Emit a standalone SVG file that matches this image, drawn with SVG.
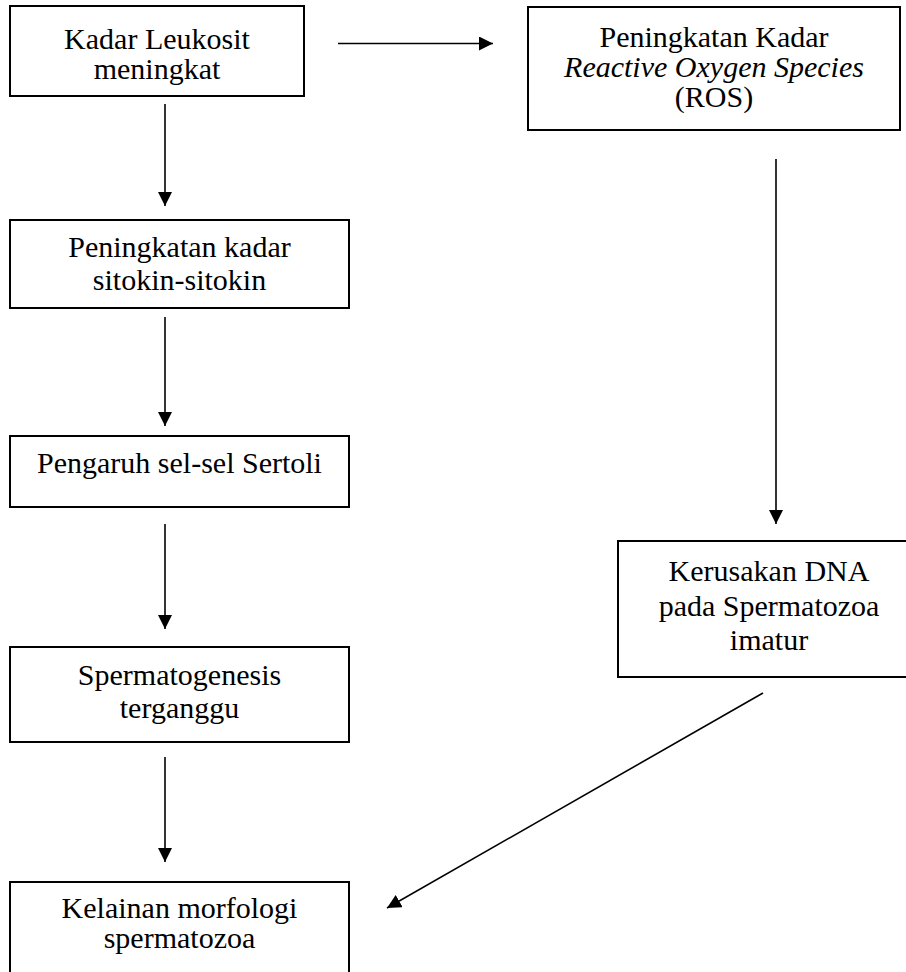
<svg xmlns="http://www.w3.org/2000/svg" width="906" height="972" viewBox="0 0 906 972">
<style>
.box{fill:#fff;stroke:#000;stroke-width:2}
.t{font-family:"Liberation Serif","Times New Roman",serif;font-size:30px;fill:#000;text-anchor:middle}
.i{font-style:italic}
.c{stroke:#000;stroke-width:1.6;fill:none;marker-end:url(#ah)}
</style>
<defs>
<marker id="ah" viewBox="0 0 14 14" refX="14" refY="7" markerWidth="14" markerHeight="14" markerUnits="userSpaceOnUse" orient="auto">
<path d="M0,0 L14,7 L0,14 Z" fill="#000"/>
</marker>
</defs>
<rect width="906" height="972" fill="#fff"/>
<g id="connectors">
<line class="c" x1="338" y1="43.5" x2="493" y2="43.5"/>
<line class="c" x1="165" y1="104" x2="165" y2="206"/>
<line class="c" x1="165" y1="317" x2="165" y2="426"/>
<line class="c" x1="165" y1="524" x2="165" y2="629"/>
<line class="c" x1="165" y1="757" x2="165" y2="862"/>
<line class="c" x1="776" y1="159" x2="776" y2="524"/>
<line class="c" x1="763" y1="693" x2="387" y2="908"/>
</g>
<g id="n1">
<rect class="box" x="10" y="6" width="294" height="90"/>
<text class="t" x="157" y="49">Kadar Leukosit</text>
<text class="t" x="157" y="79">meningkat</text>
</g>
<g id="n2">
<rect class="box" x="528" y="7" width="372" height="123"/>
<text class="t" x="714" y="47">Peningkatan Kadar</text>
<text class="t i" x="714" y="77">Reactive Oxygen Species</text>
<text class="t" x="714" y="107">(ROS)</text>
</g>
<g id="n3">
<rect class="box" x="10" y="220" width="339" height="88"/>
<text class="t" x="179.5" y="257">Peningkatan kadar</text>
<text class="t" x="179.5" y="290">sitokin-sitokin</text>
</g>
<g id="n4">
<rect class="box" x="10" y="436" width="339" height="71"/>
<text class="t" x="179.5" y="473">Pengaruh sel-sel Sertoli</text>
</g>
<g id="n5">
<rect class="box" x="10" y="647" width="339" height="95"/>
<text class="t" x="179.5" y="685">Spermatogenesis</text>
<text class="t" x="179.5" y="718">terganggu</text>
</g>
<g id="n6">
<rect class="box" x="10" y="882" width="339" height="110"/>
<text class="t" x="179.5" y="918">Kelainan morfologi</text>
<text class="t" x="179.5" y="948">spermatozoa</text>
</g>
<g id="n7">
<rect class="box" x="618" y="541" width="302" height="136"/>
<text class="t" x="769" y="581">Kerusakan DNA</text>
<text class="t" x="769" y="616">pada Spermatozoa</text>
<text class="t" x="769" y="650">imatur</text>
</g>
</svg>
